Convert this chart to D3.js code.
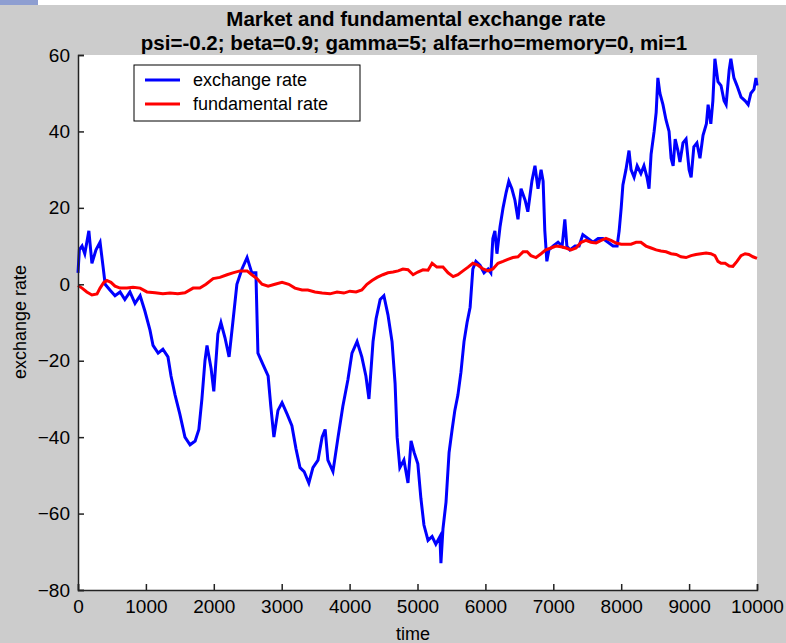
<!DOCTYPE html>
<html>
<head>
<meta charset="utf-8">
<script src="https://cdn.jsdelivr.net/npm/d3@7"></script>
<style>
  html, body { margin: 0; padding: 0; background: #cccccc; }
  svg { display: block; }
  text { font-family: "Liberation Sans", Arial, sans-serif; fill: #000; }
</style>
</head>
<body>
<svg id="chart"></svg>
<script>
// time stamps and values
var exchangeTime = [0,20,60,100,160,205,265,325,370,400,470,545,620,690,765,840,915,985,1060,1105,1180,1250,1325,1370,1430,1500,1575,1650,1725,1780,1825,1870,1900,1960,2000,2060,2105,2165,2225,2280,2340,2415,2490,2560,2620,2650,2725,2800,2840,2885,2945,3005,3080,3150,3210,3270,3330,3400,3460,3535,3595,3640,3680,3755,3830,3900,3975,4035,4110,4180,4240,4285,4345,4390,4450,4505,4565,4625,4670,4700,4740,4800,4860,4905,4950,5005,5050,5095,5155,5215,5270,5330,5345,5375,5420,5465,5510,5550,5595,5640,5685,5730,5775,5815,5860,5920,5980,6040,6080,6110,6140,6170,6215,6260,6305,6345,6390,6435,6480,6525,6585,6625,6685,6730,6775,6820,6850,6875,6905,6935,6995,7070,7130,7170,7200,7245,7320,7380,7435,7510,7585,7660,7730,7805,7880,7940,7970,8000,8025,8070,8115,8145,8190,8235,8290,8335,8380,8410,8440,8485,8515,8540,8570,8615,8660,8705,8735,8765,8795,8835,8865,8910,8955,9000,9030,9070,9115,9160,9205,9255,9280,9320,9350,9380,9425,9470,9515,9545,9590,9615,9660,9705,9765,9825,9870,9910,9955,9985,10000];
var exchangeRate = [3,9,10,8,14,5.5,9,11,4.5,0,-1.5,-3,-2,-4,-2,-5,-3,-7,-12,-16,-18,-17,-19,-24,-29,-34,-40,-42,-41,-38,-30,-20,-16,-22,-28,-13,-10,-14,-19,-10,0,4,7,3,3,-18,-21,-24,-32,-40,-33,-31,-34,-37,-43,-48,-49,-52,-48,-46,-40,-38,-46,-49,-40,-32,-25,-18,-15,-19,-24,-30,-15,-9,-4,-3,-8,-15,-26,-40,-48,-46,-52,-41,-44,-47,-56,-63,-67,-66,-68,-66,-73,-64,-57,-44,-38,-33,-29,-23,-15,-10,-6,4,6,5,3,4,3,12,14,8,15,20,24,27,25,22,17,25,22,19,27,31,25,30,27,14,6,9,10,11,10,17,10,9,10,10,13,12,11,12,12,11,10,10,14,20,26,30,35,30,28,31,29,31,28,25,34,40,45,54,50,47,43,40,33,31,38,35,32,37,38,30,28,36,37,33,39,42,47,42,48,59,53,52,48,47,56,59,54,52,49,48,47,50,51,54,52];

var fundTime = [0,60,130,205,280,325,380,425,485,545,620,720,810,915,1015,1135,1250,1355,1470,1575,1695,1795,1885,1990,2090,2195,2280,2385,2490,2560,2635,2710,2800,2900,3005,3105,3195,3300,3385,3490,3595,3710,3815,3915,4005,4095,4180,4255,4330,4405,4490,4565,4640,4715,4785,4860,4935,5005,5080,5155,5215,5285,5375,5450,5525,5595,5670,5745,5815,5890,5965,6040,6110,6185,6260,6330,6405,6480,6555,6615,6670,6745,6820,6890,6965,7040,7115,7185,7260,7335,7410,7480,7555,7630,7705,7775,7850,7925,8000,8070,8145,8220,8290,8365,8440,8515,8585,8660,8735,8810,8880,8955,9030,9100,9175,9250,9320,9380,9425,9470,9530,9590,9645,9705,9765,9825,9880,9940,10000];
var fundRate = [-0.3,-1,-2,-2.8,-2.5,-1,0.5,1,0.5,-0.5,-1,-1,-0.8,-1,-2,-2.2,-2.5,-2.3,-2.5,-2.2,-1,-1,0,1.5,1.8,2.5,3,3.5,3.5,2.5,1.5,0,-0.5,0,0.5,0,-1,-1.5,-1.5,-2,-2.3,-2.5,-2,-2.3,-1.8,-2,-1.5,0,1,1.8,2.5,3,3.2,3.5,4,3.8,2.5,3.2,3.8,3.7,5.5,4.5,4.5,3,2,2.5,3.5,4.5,5.5,5,4,3.5,4,5.5,6,6.5,7,7.2,8.5,8.5,7.5,7,8,9,9.5,10,9.8,9.5,9,9.5,11,11.5,11,10.8,11.5,12,11.5,10.8,10.5,10.5,10.5,11,11,10,9.5,9,8.7,8.5,8,7.8,7.2,7,7.5,7.8,8,8.2,8,7.5,6,5.5,5.5,4.8,4.7,6,7.5,8,7.8,7.2,6.8];

var xTicks = [0,1000,2000,3000,4000,5000,6000,7000,8000,9000,10000];
var yTicks = [-80,-60,-40,-20,0,20,40,60];
var seriesNames = ["exchange rate", "fundamental rate"];
var seriesColors = ["#0000ff", "#ff0000"];

const width = 786, height = 643;
const margin = {top: 55, right: 29, bottom: 53, left: 78};

var svg = d3.select("#chart")
    .attr("width", width)
    .attr("height", height);

svg.append("rect").attr("width", width).attr("height", height).attr("fill", "#cccccc");
// white strip and blue tab at the very top of the screenshot
svg.append("rect").attr("width", width).attr("height", 5).attr("fill", "#ffffff");
svg.append("rect").attr("width", 38).attr("height", 5).attr("fill", "#8e9ed1");

const x = d3.scaleLinear().domain([0, 10000]).range([margin.left, width - margin.right]);
const y = d3.scaleLinear().domain([-80, 60]).range([height - margin.bottom, margin.top]);

svg.append("rect")
    .attr("x", margin.left).attr("y", margin.top)
    .attr("width", x(10000) - x(0)).attr("height", y(-80) - y(60))
    .attr("fill", "#ffffff");

var line = d3.line().x(d => x(d[0])).y(d => y(d[1]));

svg.append("path")
    .datum(exchangeTime.map((t, i) => [t, exchangeRate[i]]))
    .attr("d", line)
    .attr("fill", "none")
    .attr("stroke", seriesColors[0])
    .attr("stroke-width", 3);

svg.append("path")
    .datum(fundTime.map((t, i) => [t, fundRate[i]]))
    .attr("d", line)
    .attr("fill", "none")
    .attr("stroke", seriesColors[1])
    .attr("stroke-width", 3);

// axes, ticks pointing inward like matlab
var xAxis = d3.axisBottom(x).tickValues(xTicks).tickSize(-6).tickPadding(10).tickFormat(d3.format("d"));
var yAxis = d3.axisLeft(y).tickValues(yTicks).tickSize(-6).tickPadding(8);

svg.append("g")
    .attr("transform", `translate(0,${y(-80)})`)
    .call(xAxis)
    .call(g => g.selectAll("text").attr("font-size", "19px").attr("font-family", "Liberation Sans, Arial").attr("fill", "#000"))
    .call(g => g.select(".domain").attr("stroke", "#222").attr("stroke-width", 1.5))
    .call(g => g.selectAll(".tick line").attr("stroke", "#222").attr("stroke-width", 1.5));

svg.append("g")
    .attr("transform", `translate(${x(0)},0)`)
    .call(yAxis)
    .call(g => g.selectAll("text").attr("font-size", "19px").attr("font-family", "Liberation Sans, Arial").attr("fill", "#000"))
    .call(g => g.select(".domain").attr("stroke", "#222").attr("stroke-width", 1.5))
    .call(g => g.selectAll(".tick line").attr("stroke", "#222").attr("stroke-width", 1.5));

// titles
svg.append("text")
    .attr("x", 416).attr("y", 26)
    .attr("text-anchor", "middle")
    .attr("font-size", "20.5px").attr("font-weight", "bold")
    .text("Market and fundamental exchange rate");
svg.append("text")
    .attr("x", 414).attr("y", 50)
    .attr("text-anchor", "middle")
    .attr("font-size", "20.5px").attr("font-weight", "bold")
    .text("psi=-0.2; beta=0.9; gamma=5; alfa=rho=memory=0, mi=1");

svg.append("text")
    .attr("x", 413).attr("y", 640)
    .attr("text-anchor", "middle")
    .attr("font-size", "18px")
    .text("time");

svg.append("text")
    .attr("transform", "translate(26,322) rotate(-90)")
    .attr("text-anchor", "middle")
    .attr("font-size", "18px")
    .text("exchange rate");

// legend
var legend = svg.append("g");
legend.append("rect")
    .attr("x", 134).attr("y", 65).attr("width", 226).attr("height", 56)
    .attr("fill", "#ffffff").attr("stroke", "#000").attr("stroke-width", 1);
seriesNames.forEach(function(name, i){
    legend.append("line")
        .attr("x1", 145).attr("x2", 180)
        .attr("y1", 80 + i * 24).attr("y2", 80 + i * 24)
        .attr("stroke", seriesColors[i]).attr("stroke-width", 3);
    legend.append("text")
        .attr("x", 193).attr("y", 86 + i * 24)
        .attr("font-size", "18px")
        .text(name);
});
</script>
</body>
</html>
